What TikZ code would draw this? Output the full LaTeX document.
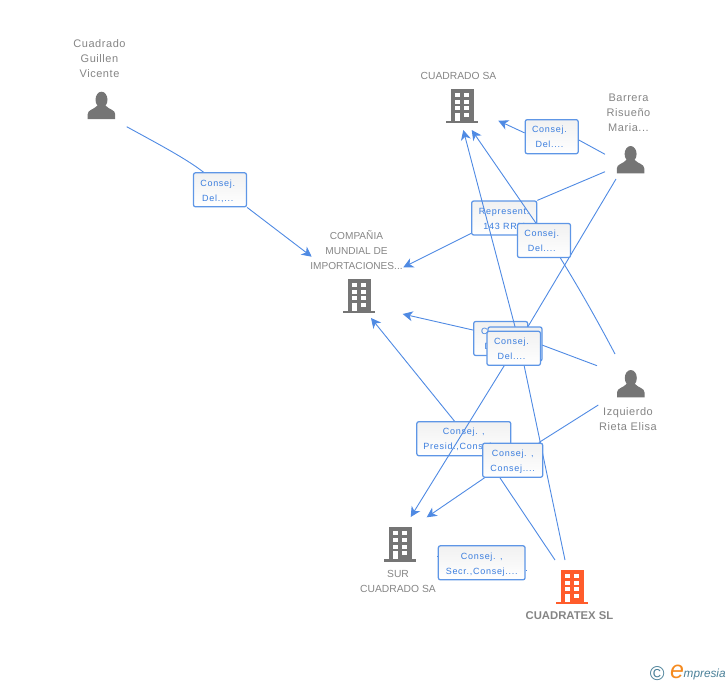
\documentclass[tikz,border=0pt]{standalone}
\usepackage{fontspec}
\setmainfont{Liberation Sans}
\newfontfamily\boxfont[LetterSpace=8]{Liberation Sans}
\newfontfamily\persfont[LetterSpace=5]{Liberation Sans}
\usetikzlibrary{arrows.meta,calc}
\pgfdeclarelayer{low}
\pgfdeclarelayer{high}
\pgfsetlayers{low,main,high}
\definecolor{linkc}{HTML}{4F8AE3}
\definecolor{boxb}{HTML}{5E96E6}
\definecolor{boxt}{HTML}{3A7DDE}
\definecolor{boxtop}{HTML}{F1F1F1}
\definecolor{labc}{HTML}{858585}
\definecolor{iconc}{HTML}{757575}
\definecolor{orangec}{HTML}{FF5C2B}
\definecolor{logoc}{HTML}{4A8098}
\definecolor{logoe}{HTML}{F58A1F}
\newcommand{\boxlines}[2]{\raisebox{-3.7pt}[0pt][0pt]{#1}\\\raisebox{-3.7pt}[0pt][0pt]{#2}}
\newcommand{\shortlines}[2]{\boxlines{#1\hspace{4.5pt}}{#2\hspace{4.5pt}}}
\tikzset{
  x=1pt,y=-1pt,
  lab/.style={text=labc,font=\fontsize{10.3}{15}\selectfont,align=center,inner sep=0pt},
  perslab/.style={text=labc,font=\persfont\fontsize{11}{15}\selectfont,align=center,inner sep=0pt},
  relbox/.style={draw=boxb,line width=1.25pt,rounded corners=2pt,top color=boxtop,bottom color=white,
    text=boxt,font=\boxfont\fontsize{9}{15}\selectfont,align=center,inner sep=0pt,minimum height=34pt},
  link/.style={draw=linkc,line width=0.9pt},
  arrowlink/.style={link,-{Stealth[length=10pt,width=10pt,inset=3pt]}},
  pics/bldg/.style={code={
    \fill[#1] (0,0) rectangle (22.5,33);
    \fill[#1] (-5,32) rectangle (27,34.2);
    \fill[white] (3.7,4) rectangle +(5,4);
    \fill[white] (13.3,4) rectangle +(5,4);
    \fill[white] (3.7,10.7) rectangle +(5,4);
    \fill[white] (13.3,10.7) rectangle +(5,4);
    \fill[white] (3.7,17.4) rectangle +(5,4);
    \fill[white] (13.3,17.4) rectangle +(5,4);
    \fill[white] (3.7,24) rectangle +(5,8);
    \fill[white] (13.3,24) rectangle +(5,4);
  }},
  pics/person/.style={code={
    \fill[iconc] (13.8,8) ellipse [x radius=6,y radius=8];
    \fill[iconc] (0,27.3) -- (0,22.5) .. controls (0,18) and (6,18) .. (9.5,14) -- (18,14)
      .. controls (21.5,18) and (27.5,18) .. (27.5,22.5) -- (27.5,27.3) -- cycle;
  }}
}
\begin{document}
\begin{tikzpicture}
\useasboundingbox (0,0) rectangle (728,685);

% icons
\path (87.7,91.7) pic (pGuillen) {person};
\path (616.8,146) pic (pBarrera) {person};
\path (617,370) pic (pIzq) {person};
\path (451,89) pic (bCuadrado) {bldg=iconc};
\path (348,279) pic (bCia) {bldg=iconc};
\path (389,527.3) pic (bSur) {bldg=iconc};
\path (561,570) pic (bTex) {bldg=orangec};

% labels
\node[perslab] (lGuillen) at (99.5,58.5) {Cuadrado\\Guillen\\Vicente};
\node[lab] (lCuadrado) at (458.5,75.5) {CUADRADO SA};
\node[perslab] (lBarrera) at (628.5,113) {Barrera\\Risueño\\Maria...};
\node[lab,font=\fontsize{10.1}{15}\selectfont] (lCia) at (356.5,250.5) {COMPAÑIA\\MUNDIAL DE\\IMPORTACIONES...};
\node[perslab] (lIzq) at (628,419.5) {Izquierdo\\Rieta Elisa};
\node[lab] (lSur) at (398,581) {SUR\\CUADRADO SA};
\node[lab,font=\bfseries\fontsize{11.3}{15}\selectfont] (lTex) at (569.5,615.5) {CUADRATEX SL};

% boxes under the connectors
\begin{pgfonlayer}{low}
\node[relbox,minimum width=94pt] (presid) at (463.8,438.7) {\boxlines{Consej. ,}{Presid.,Consej....}};
\node[relbox,minimum width=65pt] (rep) at (504.2,218) {\boxlines{Represent.}{143 RRM}};
\node[relbox,minimum width=54pt] (boxA) at (500.7,338.5) {\shortlines{Consej.}{Del....}};
\end{pgfonlayer}

% boxes over the connectors
\begin{pgfonlayer}{high}
\node[relbox,minimum width=53pt] (guil) at (220,189.8) {\shortlines{Consej.}{Del.,...}};
\node[relbox,minimum width=53pt] (delTop) at (551.7,136.7) {\shortlines{Consej.}{Del....}};
\node[relbox,minimum width=53pt] (delMid) at (544,240.5) {\shortlines{Consej.}{Del....}};
\node[relbox,minimum width=54pt] (boxB) at (515,344) {};
\node[relbox,minimum width=53.5pt] (boxC) at (513.7,348.3) {\shortlines{Consej.}{Del....}};
\node[relbox,minimum width=60pt] (cons) at (512.7,460.2) {\boxlines{Consej. ,}{Consej....}};
\node[relbox,minimum width=86.7pt] (secr) at (481.7,562.8) {\boxlines{Consej. ,}{Secr.,Consej....}};
\end{pgfonlayer}

% free ends and hidden meeting points
\coordinate (gStart) at (126.7,126.7);
\coordinate (ciaTipA) at (311.7,256.7);
\coordinate (ciaTipB) at (403.3,267.3);
\coordinate (ciaTipC) at (402.7,314);
\coordinate (ciaTipD) at (371,318);
\coordinate (cuaTipA) at (498.3,120.7);
\coordinate (cuaTipB) at (471.7,130);
\coordinate (cuaTipC) at (463.3,130);
\coordinate (surTipA) at (410.7,517);
\coordinate (surTipB) at (426.7,517.3);
\coordinate (barA) at (605,154.3);
\coordinate (barB) at (605,171.7);
\coordinate (barC) at (616,179);
\coordinate (izqA) at (615,354);
\coordinate (izqB) at (597,365.7);
\coordinate (izqC) at (598.3,405);
\coordinate (texA) at (565,560);
\coordinate (texB) at (555,560);
\coordinate (hubA) at (519.8,345);
\coordinate (hubB) at (517,345);
\coordinate (hubC) at (530,340.5);
\coordinate (hubD) at (490,463);
\coordinate (stubL) at (437.3,556.7);
\coordinate (stubR) at (526.3,570);

% connectors
\draw[link] (gStart) .. controls (160,145) and (185,158) .. (guil.133);
\draw[arrowlink] (guil.south east) -- (ciaTipA);
\draw[link] (barA) -- (delTop.-7);
\draw[arrowlink] (delTop.172) -- (cuaTipA);
\draw[link] (barB) -- (rep.north east);
\draw[arrowlink] (rep.205) -- (ciaTipB);
\draw[link] (izqA) .. controls (595,316) and (577,285) .. (delMid.-47);
\draw[arrowlink] (delMid.115) -- (cuaTipB);
\draw[link] (texA) -- (hubA);
\draw[arrowlink] (hubA) -- (cuaTipC);
\draw[link] (barC) -- (hubB);
\draw[arrowlink] (hubB) -- (surTipA);
\draw[link] (izqB) -- (hubC);
\draw[arrowlink] (boxA.163) -- (ciaTipC);
\draw[link] (texB) -- (hubD);
\draw[arrowlink] (presid.118) -- (ciaTipD);
\draw[link] (izqC) -- (cons.34);
\draw[arrowlink] (cons.212) -- (surTipB);
\draw[link] (stubL) -- (secr.west |- stubL);
\draw[link] (stubR) -- (secr.east |- stubR);

% logo
\node[text=logoc,font=\fontsize{20}{20}\selectfont,inner sep=0pt] (logoC) at (657.3,674) {©};
\node[text=logoe,font=\itshape\fontsize{25}{25}\selectfont,inner sep=0pt] (logoE) at (677,672) {e};
\node[text=logoc,font=\itshape\fontsize{11.8}{11.8}\selectfont,anchor=west,inner sep=0pt] (logoT) at (683.5,674.5) {mpresia};
\end{tikzpicture}
\end{document}
